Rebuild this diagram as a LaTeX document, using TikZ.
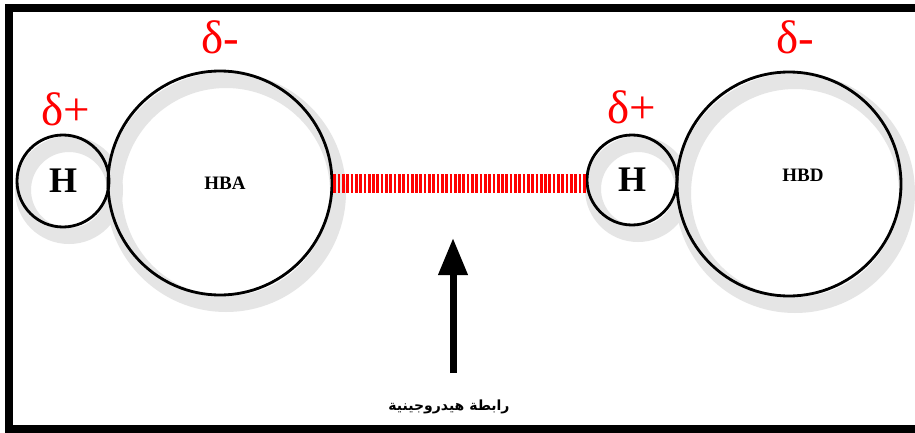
\documentclass[tikz,border=0pt]{standalone}
\usepackage{fontspec}
\setmainfont{Liberation Serif}
\newfontfamily\arabicfont[Script=Arabic]{DejaVu Sans}
\TeXXeTstate=1
\usetikzlibrary{arrows.meta,backgrounds}
\tikzset{
  atom/.style={circle, draw, line width=2.8pt, inner sep=0pt},
  halo/.style={draw=black!10, line width=16pt},
  charge/.style={text=red, font=\fontsize{47}{47}\selectfont},
  bond/.style={draw=red, line width=19pt, dash pattern=on 2.7pt off 1.6pt},
  pointer/.style={line width=7pt, -{Triangle[length=37pt,width=28pt]}},
}
\begin{document}
\begin{tikzpicture}[x=1pt,y=-1pt]
  \useasboundingbox (0,0) rectangle (915,433);
  \clip (0,0) rectangle (915,433);

  \node[atom, minimum size=92pt, font=\bfseries\fontsize{36}{36}\selectfont] (Hacc) at (63,181) {H};
  \node[atom, minimum size=224pt] (HBA) at (220,183) {};
  \node[atom, minimum size=90pt, font=\bfseries\fontsize{36}{36}\selectfont] (Hdon) at (632,180) {H};
  \node[atom, minimum size=224pt] (HBD) at (789,184) {};

  \node[font=\bfseries\fontsize{19}{19}\selectfont] (HBAtxt) at ([shift={(5,0)}]HBA.center) {HBA};
  \node[font=\bfseries\fontsize{19}{19}\selectfont] (HBDtxt) at ([shift={(14,-9)}]HBD.center) {HBD};

  \node[charge] (qHacc) at (66,109) {δ+};
  \node[charge] (qHBA) at (220,37) {δ-};
  \node[charge] (qHdon) at (632,107) {δ+};
  \node[charge] (qHBD) at (795,37) {δ-};

  \draw[bond] (HBA.east) -- (HBA.east -| Hdon.west);

  \coordinate (tail) at (453,373);
  \coordinate (tip) at (453,238);
  \draw[pointer] (tail) -- (tip);
  \node[font=\arabicfont\bfseries\fontsize{14}{14}\selectfont] (hblabel) at (449,407) {\beginR رابطة هيدروجينية\endR};

  \begin{scope}[on background layer]
    \fill[white] (0,0) rectangle (915,433);
    \draw[halo] ([shift={(6,9)}]Hacc.center) circle (46pt);
    \draw[halo] ([shift={(6,9)}]HBA.center) circle (112pt);
    \draw[halo] ([shift={(6,9)}]Hdon.center) circle (45pt);
    \draw[halo] ([shift={(6,9)}]HBD.center) circle (112pt);
  \end{scope}

  \draw[line width=8pt] (920,8) -- (9,8) -- (9,429) -- (920,429);
\end{tikzpicture}
\end{document}
